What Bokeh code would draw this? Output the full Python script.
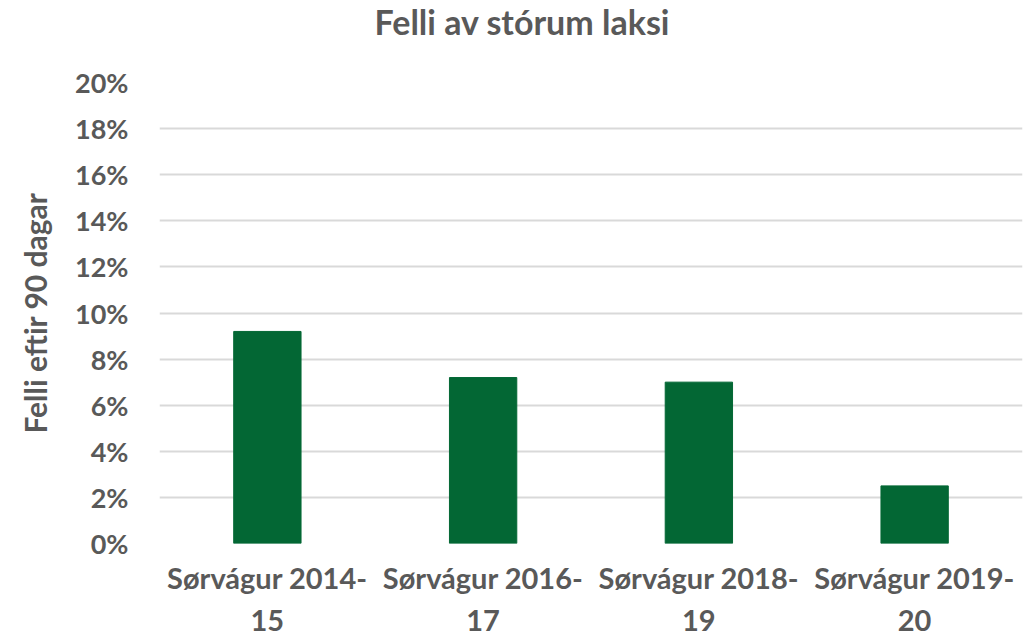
from bokeh.plotting import figure
from bokeh.models import FixedTicker, NumeralTickFormatter, Div
from bokeh.layouts import column
from bokeh.embed import file_html
from bokeh.resources import INLINE

categories = ["Sørvágur 2014-\n15", "Sørvágur 2016-\n17", "Sørvágur 2018-\n19", "Sørvágur 2019-\n20"]
values = [0.092, 0.072, 0.070, 0.025]
y_ticks = [0.0, 0.02, 0.04, 0.06, 0.08, 0.10, 0.12, 0.14, 0.16, 0.18, 0.20]
title_text = "Felli av stórum laksi"
y_label = "Felli eftir 90 dagar"

TEXT = "#595959"
FONT = "Lato"

title_div = Div(
    text=('<div style="width:1044px;text-align:center;font-family:Lato;font-size:34px;'
          'font-weight:bold;color:#595959;line-height:44px;white-space:nowrap;">'
          + title_text + '</div>'),
    width=1024, height=44, margin=0)

p = figure(x_range=categories, y_range=(0, 0.2), width=1024, height=595,
           output_backend="svg", toolbar_location=None, margin=0,
           min_border_left=159, min_border_right=2, min_border_top=38, min_border_bottom=95)

p.vbar(x=categories, top=values, width=0.312, color="#036734")

p.yaxis.ticker = FixedTicker(ticks=y_ticks)
p.yaxis.formatter = NumeralTickFormatter(format="0%")
p.yaxis.axis_label = y_label
for ax in (p.xaxis, p.yaxis):
    ax.axis_line_color = None
    ax.major_tick_line_color = None
    ax.minor_tick_line_color = None
    ax.major_label_text_font = FONT
    ax.major_label_text_font_style = "bold"
    ax.major_label_text_color = TEXT
p.yaxis.major_label_text_font_size = "27px"
p.xaxis.major_label_text_font_size = "29px"
p.yaxis.axis_label_text_font = FONT
p.yaxis.axis_label_text_font_size = "30px"
p.yaxis.axis_label_text_font_style = "bold"
p.yaxis.axis_label_text_color = TEXT
p.yaxis.axis_label_standoff = 19
p.yaxis.major_label_standoff = 25
p.xaxis.major_label_standoff = 10

p.xgrid.grid_line_color = None
p.ygrid.grid_line_color = "#d9d9d9"
p.ygrid.grid_line_width = 2
p.outline_line_color = None

layout = column(title_div, p, spacing=0, margin=0)

open("out.html", "w").write(file_html(layout, INLINE))
